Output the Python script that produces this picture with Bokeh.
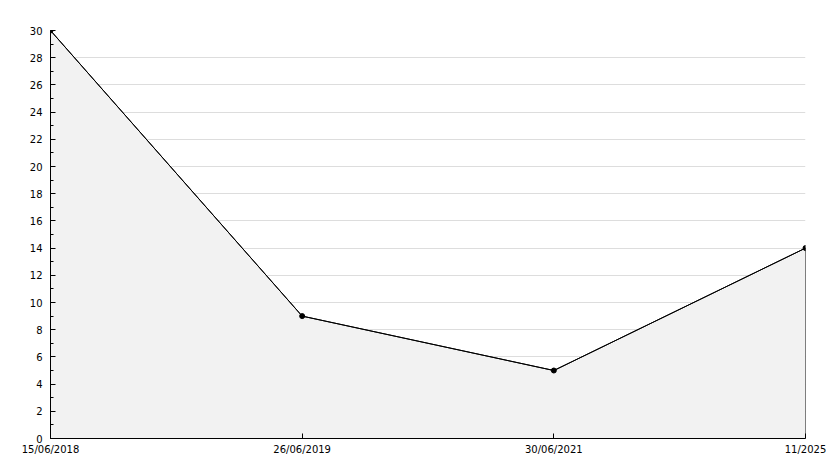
from bokeh.plotting import figure
from bokeh.models import Range1d, FixedTicker, SingleIntervalTicker, ColumnDataSource
from bokeh.embed import file_html
from bokeh.resources import INLINE

dates = ["15/06/2018", "26/06/2019", "30/06/2021", "11/2025"]
values = [30, 9, 5, 14]

xs = list(range(len(dates)))

p = figure(width=826, height=460, output_backend="svg", toolbar_location=None,
           x_range=Range1d(0, len(dates) - 1), y_range=Range1d(0, 30),
           min_border_left=50, min_border_right=21, min_border_top=30, min_border_bottom=22)
p.outline_line_color = None
p.background_fill_color = "white"

# area
px = [xs[0]] + xs + [xs[-1]]
py = [0] + values + [0]
p.patch(px, py, fill_color="#f2f2f2", line_color="black", line_width=1)
src = ColumnDataSource(dict(x=xs, y=values))
p.line("x", "y", source=src, line_color="black", line_width=1)
p.scatter("x", "y", source=src, size=5, marker="circle", fill_color="black", line_color="black")

# axes
p.xaxis.ticker = FixedTicker(ticks=xs)
p.xaxis.major_label_overrides = {i: d for i, d in zip(xs, dates)}
p.yaxis.ticker = SingleIntervalTicker(interval=2, num_minor_ticks=2)

for ax in (p.xaxis[0], p.yaxis[0]):
    ax.axis_line_color = "black"
    ax.major_tick_line_color = "black"
    ax.minor_tick_line_color = "black"
    ax.major_tick_in = 5
    ax.major_tick_out = 0
    ax.minor_tick_in = 3
    ax.minor_tick_out = 0
    ax.major_label_text_font = "DejaVu Sans"
    ax.major_label_text_font_size = "10px"
    ax.major_label_text_color = "black"
p.xaxis.minor_tick_line_color = None
p.yaxis.major_label_standoff = 8
p.xaxis.major_label_standoff = 5

p.xgrid.grid_line_color = None
p.ygrid.grid_line_color = "#dddddd"
p.ygrid.ticker = SingleIntervalTicker(interval=2)

open("out.html", "w").write(file_html(p, INLINE))
